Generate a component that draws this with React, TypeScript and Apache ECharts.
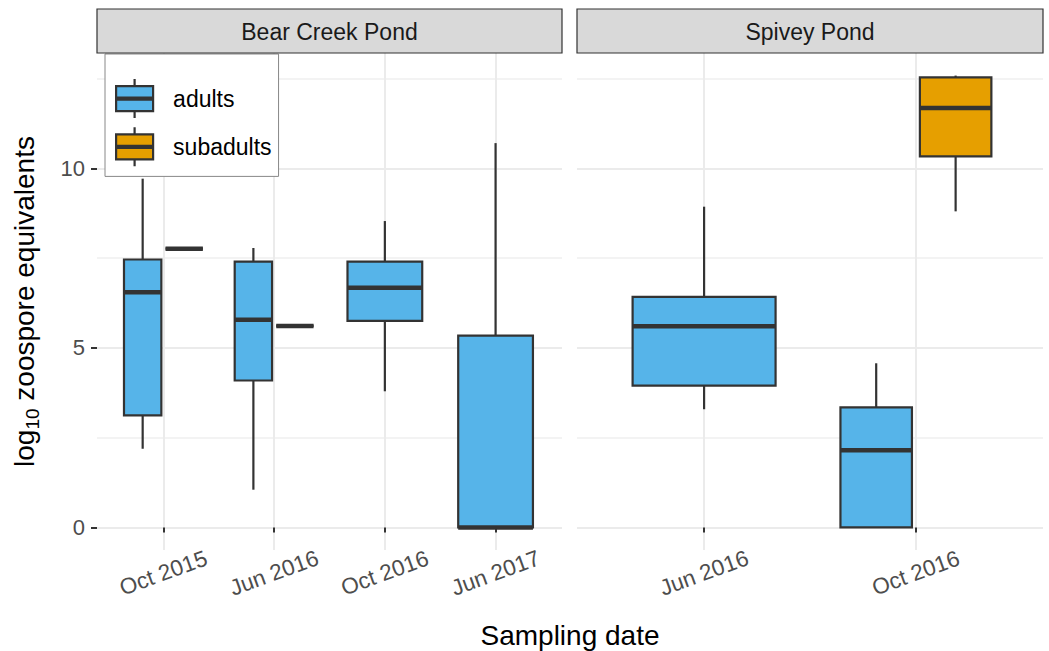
import React, { useEffect, useRef } from "react";
import * as echarts from "echarts";

const FONT = "'Liberation Sans', Arial, Helvetica, sans-serif";

// Facet panels and their sampling dates (x categories)
const panels = ["Bear Creek Pond", "Spivey Pond"];
const bearCategories = ["Oct 2015", "Jun 2016", "Oct 2016", "Jun 2017"];
const spiveyCategories = ["Jun 2016", "Oct 2016"];
const groups = ["adults", "subadults"];

// Box statistics: [lower whisker, Q1, median, Q3, upper whisker]
const bearAdults = [
  [2.19, 3.12, 6.55, 7.46, 9.71],
  [1.05, 4.09, 5.78, 7.4, 7.78],
  [3.79, 5.75, 6.67, 7.4, 8.53],
  [0, 0, 0, 5.34, 10.7],
];
const bearSubadults = [
  [7.76, 7.76, 7.76, 7.76, 7.76],
  [5.61, 5.61, 5.61, 5.61, 5.61],
  null,
  null,
];
const spiveyAdults = [
  [3.29, 3.95, 5.6, 6.42, 8.93],
  [0, 0, 2.15, 3.34, 4.57],
];
const spiveySubadults = [null, [8.8, 10.33, 11.68, 12.53, 12.58]];

const yTicks = [0, 5, 10];
const yMinorTicks = [2.5, 7.5, 12.5];

const COLORS = ["#56B4E9", "#E69F00"];
const STROKE = "#333333";

type Box = number[] | null;

function buildItems(own: Box[], other: Box[], side: number) {
  const items: number[][] = [];
  own.forEach((b, i) => {
    if (!b) return;
    const both = other[i] != null;
    const offset = both ? side * 0.1875 : 0;
    const width = both ? 0.3375 : 0.675;
    items.push([i + 1 + offset, b[0], b[1], b[2], b[3], b[4], width]);
  });
  return items;
}

function renderBox(fill: string) {
  return (params: any, api: any) => {
    const x = api.value(0);
    const lo = api.value(1);
    const q1 = api.value(2);
    const med = api.value(3);
    const q3 = api.value(4);
    const hi = api.value(5);
    const w = api.value(6);
    const [xl, yq1] = api.coord([x - w / 2, q1]);
    const [xr, yq3] = api.coord([x + w / 2, q3]);
    const [xc, ylo] = api.coord([x, lo]);
    const yhi = api.coord([x, hi])[1];
    const ymed = api.coord([x, med])[1];
    const children: any[] = [];
    if (yhi < yq3 - 0.5)
      children.push({ type: "line", shape: { x1: xc, y1: yhi, x2: xc, y2: yq3 }, style: { stroke: STROKE, lineWidth: 2.2 } });
    if (ylo > yq1 + 0.5)
      children.push({ type: "line", shape: { x1: xc, y1: yq1, x2: xc, y2: ylo }, style: { stroke: STROKE, lineWidth: 2.2 } });
    children.push({
      type: "rect",
      shape: { x: xl, y: yq3, width: xr - xl, height: yq1 - yq3 },
      style: { fill, stroke: STROKE, lineWidth: 2.2 },
    });
    children.push({
      type: "line",
      shape: { x1: xl, y1: ymed, x2: xr, y2: ymed },
      style: { stroke: STROKE, lineWidth: 4.5 },
    });
    return { type: "group", children };
  };
}

export default function App() {
  const ref = useRef<HTMLDivElement>(null);

  useEffect(() => {
    if (!ref.current) return;
    const chart = echarts.init(ref.current, undefined, { renderer: "svg" });

    const allVals: number[] = [];
    [bearAdults, bearSubadults, spiveyAdults, spiveySubadults].forEach((arr) =>
      arr.forEach((b) => b && b.forEach((v) => allVals.push(v)))
    );
    const dMin = Math.min(...allVals);
    const dMax = Math.max(...allVals);
    const pad = (dMax - dMin) * 0.05;
    const yMin = dMin - pad;
    const yMax = dMax + pad;

    const gridsPx = [
      { left: 97, right: 487, top: 53, bottom: 101 },
      { left: 577, right: 6, top: 53, bottom: 101 },
    ];
    const catsList = [bearCategories, spiveyCategories];

    const xAxes = catsList.map((cats, gi) => {
      const idx = cats.map((_, i) => i + 1);
      return {
        type: "value",
        gridIndex: gi,
        min: 0.4,
        max: cats.length + 0.6,
        axisLine: { show: false },
        axisTick: { show: true, customValues: idx, length: 5, lineStyle: { color: STROKE, width: 2 } },
        axisLabel: {
          customValues: idx,
          formatter: (v: number) => cats[Math.round(v) - 1] ?? "",
          rotate: 20,
          align: "center",
          verticalAlign: "middle",
          margin: 23,
          fontSize: 22.5,
          color: "#4D4D4D",
          fontFamily: FONT,
        },
        splitLine: { show: true, lineStyle: { color: "#EBEBEB", width: 2 } },
      };
    });

    const yAxes: any[] = [];
    [0, 1].forEach((gi) => {
      yAxes.push({
        type: "value",
        gridIndex: gi,
        min: yMin,
        max: yMax,
        axisLine: { show: false },
        axisTick: { show: gi === 0, customValues: yTicks, length: 6, lineStyle: { color: STROKE, width: 2 } },
        axisLabel: {
          show: gi === 0,
          customValues: yTicks,
          margin: 12,
          fontSize: 22,
          color: "#4D4D4D",
          fontFamily: FONT,
        },
        splitLine: { show: true, lineStyle: { color: "#EBEBEB", width: 2 } },
        name: gi === 0 ? "log{sub|10} zoospore equivalents" : "",
        nameLocation: "middle",
        nameRotate: 90,
        nameGap: 55,
        nameTextStyle: {
          fontSize: 28,
          color: "#000",
          fontFamily: FONT,
          rich: {
            sub: { fontSize: 19, fontFamily: FONT, color: "#000", padding: [16, 0, 0, 0] },
          },
        },
      });
      yAxes.push({
        type: "value",
        gridIndex: gi,
        min: yMin,
        max: yMax,
        axisLine: { show: false },
        axisTick: { show: false, customValues: yMinorTicks },
        axisLabel: { show: false, customValues: yMinorTicks },
        splitLine: { show: true, lineStyle: { color: "#EFEFEF", width: 1.7 } },
      });
    });

    const series: any[] = [
      { grid: 0, ad: bearAdults, sub: bearSubadults },
      { grid: 1, ad: spiveyAdults, sub: spiveySubadults },
    ].flatMap((p) => [
      {
        type: "custom",
        name: groups[0],
        xAxisIndex: p.grid,
        yAxisIndex: p.grid * 2,
        data: buildItems(p.ad, p.sub, -1),
        renderItem: renderBox(COLORS[0]),
        itemStyle: { color: COLORS[0] },
        encode: { x: 0, y: [1, 2, 3, 4, 5] },
      },
      {
        type: "custom",
        name: groups[1],
        xAxisIndex: p.grid,
        yAxisIndex: p.grid * 2,
        data: buildItems(p.sub, p.ad, 1),
        renderItem: renderBox(COLORS[1]),
        itemStyle: { color: COLORS[1] },
        encode: { x: 0, y: [1, 2, 3, 4, 5] },
      },
    ]);

    const iconPath =
      "path://M0,7H37V32H0Z M0,18.5H37 M0,20.5H37 M18.5,0V7 M18.5,32V39";

    const graphics: any[] = [];
    panels.forEach((name, gi) => {
      const g = gridsPx[gi];
      const x0 = g.left;
      const x1 = 1049 - g.right;
      graphics.push({
        type: "rect",
        shape: { x: x0, y: 9, width: x1 - x0, height: 44 },
        style: { fill: "#D9D9D9", stroke: STROKE, lineWidth: 1.2 },
        z: 10,
      });
      graphics.push({
        type: "text",
        x: (x0 + x1) / 2,
        y: 31.5,
        style: {
          text: name,
          fontSize: 23,
          fontFamily: FONT,
          fill: "#1A1A1A",
          align: "center",
          verticalAlign: "middle",
        },
        z: 11,
      });
    });
    graphics.push({
      type: "text",
      x: 570,
      y: 635,
      style: {
        text: "Sampling date",
        fontSize: 28,
        fontFamily: FONT,
        fill: "#000",
        align: "center",
        verticalAlign: "middle",
      },
    });

    chart.setOption({
      animation: false,
      backgroundColor: "#fff",
      grid: gridsPx.map((g) => ({ ...g, outerBoundsMode: "none", containLabel: false })),
      xAxis: xAxes,
      yAxis: yAxes,
      legend: {
        left: 105,
        top: 54,
        orient: "vertical",
        selectedMode: false,
        padding: [24, 7, 9, 10],
        itemGap: 7,
        itemWidth: 37,
        itemHeight: 39,
        backgroundColor: "#fff",
        borderColor: "#888",
        borderWidth: 1,
        textStyle: { fontSize: 23, color: "#000", fontFamily: FONT, padding: [0, 0, 0, 15] },
        data: groups.map((g, i) => ({
          name: g,
          icon: iconPath,
          itemStyle: { color: COLORS[i], borderColor: STROKE, borderWidth: 2.2 },
        })),
      },
      graphic: graphics,
      series,
    });

    return () => chart.dispose();
  }, []);

  return <div ref={ref} style={{ position: "fixed", left: 0, top: 0, width: 1049, height: 651 }} />;
}
